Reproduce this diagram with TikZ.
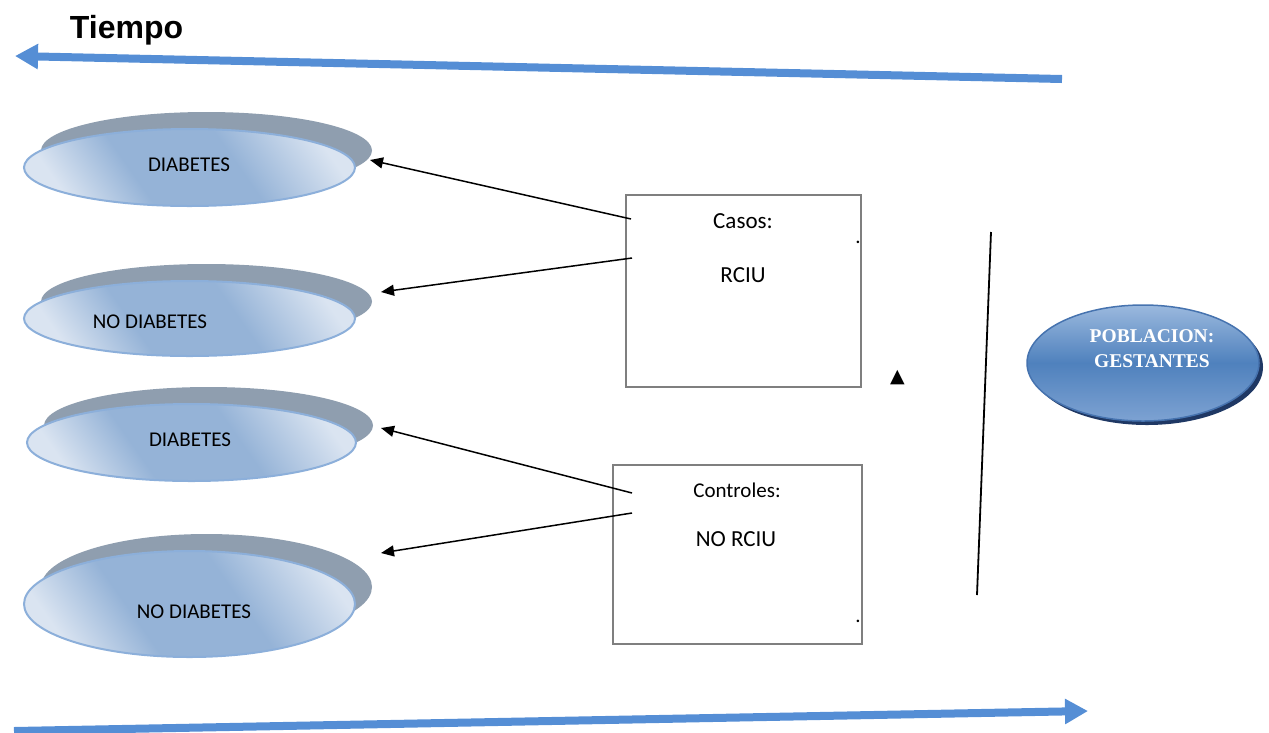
\documentclass[tikz,border=0pt]{standalone}
\usepackage{fontspec}
\setmainfont{Carlito}
\newfontfamily\tiempofont{Liberation Sans}
\newfontfamily\pobfont{Liberation Serif}
\newfontfamily\symfont{DejaVu Sans}
\usetikzlibrary{arrows.meta,shapes.geometric,shadows}

\definecolor{timeblue}{RGB}{85,142,213}
\definecolor{ovallight}{RGB}{218,228,241}
\definecolor{ovaldark}{RGB}{149,179,215}
\definecolor{ovalborder}{RGB}{140,175,218}
\definecolor{ovalshadow}{RGB}{143,158,175}
\definecolor{boxgray}{RGB}{127,127,127}
\definecolor{poptop}{RGB}{155,185,222}
\definecolor{popmid}{RGB}{79,129,189}
\definecolor{popbot}{RGB}{125,162,210}
\definecolor{popborder}{RGB}{70,115,175}
\definecolor{popshadow}{RGB}{31,56,100}

\pgfdeclarehorizontalshading{ovalshade}{100bp}{
    color(0bp)=(ovallight); color(24bp)=(ovallight);
    color(39bp)=(ovaldark); color(59bp)=(ovaldark);
    color(77bp)=(ovallight); color(100bp)=(ovallight)}

\begin{document}
\begin{tikzpicture}[
    x=1pt, y=-1pt,
    >=Latex,
    oval/.style={
        ellipse, inner sep=0pt, line width=2pt, draw=ovalborder,
        drop shadow={shadow xshift=17pt, shadow yshift=17pt,
            fill=ovalshadow, opacity=1},
        shading=ovalshade, shading angle=35
    },
    ovaltext/.style={font=\fontsize{21}{25}\selectfont, inner sep=0pt},
    casebox/.style={draw=boxgray, line width=2pt, inner sep=0pt},
    boxtext/.style={font=\fontsize{23}{27}\selectfont, inner sep=0pt},
    link/.style={-{Triangle[length=13pt,width=11pt]}, line width=1.5pt},
    timeline/.style={-{Triangle[length=23pt,width=24pt]}, line width=8pt,
        timeblue}
]
\useasboundingbox (0,0) rectangle (1269,732);

% time axis
\node[font=\tiempofont\bfseries\fontsize{32}{36}\selectfont, inner sep=0pt]
    (tiempo) at (126.5,30) {Tiempo};
\coordinate (topstart) at (1062,79);
\coordinate (topend) at (15,56);
\draw[timeline] (topstart) -- (topend);
\coordinate (botstart) at (14,731);
\coordinate (botend) at (1088,711);
\draw[timeline] (botstart) -- (botend);

% exposure ovals
\node[oval, minimum width=331pt, minimum height=77pt] (ov1) at (189.5,167.5) {};
\node[oval, minimum width=331pt, minimum height=75pt] (ov2) at (189.5,318.5) {};
\node[oval, minimum width=329pt, minimum height=77pt] (ov3) at (191.5,442.5) {};
\node[oval, minimum width=331pt, minimum height=106pt] (ov4) at (189.5,604) {};
\node[ovaltext] (ov1lbl) at (189,164.5) {DIABETES};
\node[ovaltext] (ov2lbl) at (150,322) {NO DIABETES};
\node[ovaltext] (ov3lbl) at (190,440) {DIABETES};
\node[ovaltext] (ov4lbl) at (194,612) {NO DIABETES};

% cases and controls
\node[casebox, minimum width=235pt, minimum height=192pt] (casos) at (743.5,291) {};
\node[boxtext] (casoslbl) at (743,221.5) {Casos:};
\node[boxtext] (rciu) at (743,275.5) {RCIU};
\node[ovaltext, anchor=base] (casosdot) at (858,243) {.};

\node[casebox, minimum width=249pt, minimum height=179pt] (controles) at (737.5,554.5) {};
\node[ovaltext] (controleslbl) at (737,490) {Controles:};
\node[boxtext] (norciu) at (736,539.5) {NO RCIU};
\node[ovaltext, anchor=base] (controlesdot) at (858,622) {.};

% links to exposure
\coordinate (c1s) at (631,219);
\coordinate (c1e) at (370,160);
\coordinate (c2s) at (632,258);
\coordinate (c2e) at (381,292);
\coordinate (k1s) at (632,493);
\coordinate (k1e) at (381,428);
\coordinate (k2s) at (632,513);
\coordinate (k2e) at (381,553);
\draw[link] (c1s) -- (c1e);
\draw[link] (c2s) -- (c2e);
\draw[link] (k1s) -- (k1e);
\draw[link] (k2s) -- (k2e);

% separator and marker
\node[font=\symfont\fontsize{19}{23}\selectfont, inner sep=0pt] (marker) at (897.5,377.5) {▲};
\coordinate (septop) at (991,232);
\coordinate (sepbot) at (977,595);
\draw[line width=1.8pt] (septop) -- (sepbot);

% population
\node[ellipse, inner sep=0pt, minimum width=232pt, minimum height=116pt,
    line width=1.5pt, draw=popborder,
    drop shadow={shadow xshift=4pt, shadow yshift=-4pt, fill=popshadow, opacity=1},
    top color=poptop, bottom color=popbot, middle color=popmid]
    (poblacion) at (1143,363) {};
\node[font=\pobfont\bfseries\fontsize{19.5}{25}\selectfont, text=white,
    align=center, inner sep=0pt] (poblbl) at (1152,349) {POBLACION:\\GESTANTES};

\end{tikzpicture}
\end{document}
